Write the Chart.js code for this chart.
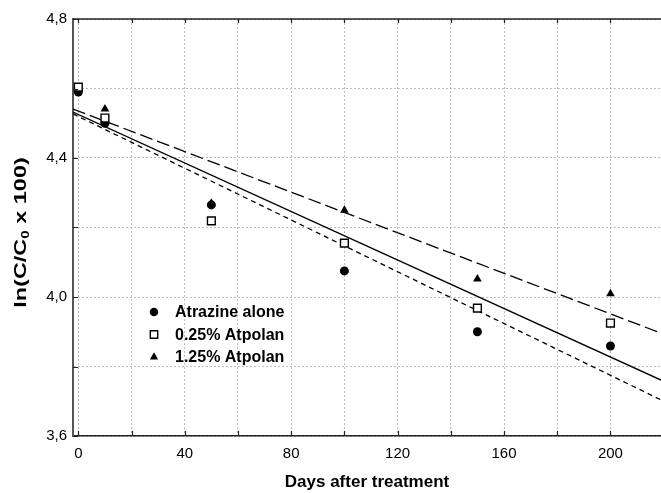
<!DOCTYPE html>
<html>
<head>
<meta charset="utf-8">
<script src="https://cdn.jsdelivr.net/npm/chart.js@4.4.1/dist/chart.umd.min.js"></script>
<style>
  html, body { margin: 0; padding: 0; background: #fff; }
  #wrap { width: 661px; height: 493px; }
</style>
</head>
<body>
<div id="wrap"><canvas id="c" width="661" height="493"></canvas></div>
<script>
/* global Chart */

const days = [0, 10, 50, 100, 150, 200];
const atrazineAlone = [4.59, 4.50, 4.265, 4.075, 3.90, 3.859];
const atpolan025 = [4.604, 4.515, 4.219, 4.155, 3.968, 3.925];
const atpolan125 = [4.596, 4.541, 4.27, 4.25, 4.052, 4.009];

// fitted lines, read at the left and right edges of the plot
const fitDays = [-2, 219];
const fitAlone = [4.527, 3.704];
const fit025 = [4.532, 3.761];
const fit125 = [4.541, 3.896];

const seriesLabels = ['Atrazine alone', '0.25% Atpolan', '1.25% Atpolan'];
const xTickLabels = [0, 40, 80, 120, 160, 200];
const yTickLabels = [3.6, 4.0, 4.4, 4.8];

const FONT = '"Liberation Sans", Arial, sans-serif';

function toPoints(xs, ys) {
  return xs.map((x, i) => ({ x, y: ys[i] }));
}

// marker styles for the three series (also used by the legend)
const markers = [
  { pointStyle: 'circle', radius: 4.5, fill: '#000', borderWidth: 0 },
  { pointStyle: 'rect', radius: 5.5, fill: '#fff', borderWidth: 1.4 },
  { pointStyle: 'triangle', radius: 5, fill: '#000', borderWidth: 0 },
];

function pointDataset(label, values, m, order) {
  return {
    label,
    data: toPoints(days, values),
    pointStyle: m.pointStyle,
    pointRadius: m.radius,
    pointBackgroundColor: m.fill,
    pointBorderColor: '#000',
    pointBorderWidth: m.borderWidth,
    showLine: false,
    order,
  };
}

function fitDataset(label, values, dash) {
  return {
    label,
    data: toPoints(fitDays, values),
    showLine: true,
    pointRadius: 0,
    borderColor: '#000',
    borderWidth: 1.3,
    borderDash: dash,
    fill: false,
    order: 10,
  };
}

function drawMarker(ctx, m, x, y) {
  ctx.fillStyle = m.fill;
  ctx.strokeStyle = '#000';
  ctx.lineWidth = m.borderWidth;
  Chart.helpers.drawPoint(ctx, {
    pointStyle: m.pointStyle,
    radius: m.radius * 0.95,
    rotation: 0,
    borderWidth: m.borderWidth,
  }, x, y);
}

const decorations = {
  id: 'decorations',
  afterDraw(chart) {
    const { ctx, chartArea: a, scales: { x, y } } = chart;
    ctx.save();

    // top frame line
    ctx.strokeStyle = '#222';
    ctx.lineWidth = 1.5;
    ctx.beginPath();
    ctx.moveTo(a.left, a.top);
    ctx.lineTo(a.right, a.top);
    ctx.stroke();

    // inward tick marks
    ctx.lineWidth = 1.2;
    ctx.beginPath();
    x.ticks.forEach((t) => {
      const px = Math.round(x.getPixelForValue(t.value)) + 0.5;
      ctx.moveTo(px, a.bottom);
      ctx.lineTo(px, a.bottom - 5);
      ctx.moveTo(px, a.top);
      ctx.lineTo(px, a.top + 4);
    });
    y.ticks.forEach((t) => {
      const py = Math.round(y.getPixelForValue(t.value)) + 0.5;
      ctx.moveTo(a.left, py);
      ctx.lineTo(a.left + 5, py);
    });
    ctx.stroke();

    // legend inside the plot
    const lx = a.left + 81;
    const ly = a.top + 293;
    ctx.font = `bold 16px ${FONT}`;
    ctx.textBaseline = 'middle';
    ctx.textAlign = 'left';
    seriesLabels.forEach((label, i) => {
      const rowY = ly + i * 22.5;
      drawMarker(ctx, markers[i], lx, rowY);
      ctx.fillStyle = '#000';
      ctx.fillText(label, lx + 21, rowY + 1);
    });

    // y axis title, with subscript 0
    ctx.translate(20, (a.top + a.bottom) / 2 + 5);
    ctx.rotate(-Math.PI / 2);
    ctx.scale(1.38, 1);
    const big = `bold 17px ${FONT}`;
    const small = `bold 11px ${FONT}`;
    const p1 = 'ln(C/C';
    const p2 = '0';
    const p3 = ' x 100)';
    ctx.font = big;
    const w1 = ctx.measureText(p1).width;
    const w3 = ctx.measureText(p3).width;
    ctx.font = small;
    const w2 = ctx.measureText(p2).width;
    let cx = -(w1 + w2 + w3) / 2;
    ctx.fillStyle = '#000';
    ctx.textBaseline = 'alphabetic';
    ctx.font = big;
    ctx.fillText(p1, cx, 6);
    cx += w1;
    ctx.font = small;
    ctx.fillText(p2, cx, 9);
    cx += w2;
    ctx.font = big;
    ctx.fillText(p3, cx, 6);

    ctx.restore();
  },
};

new Chart(document.getElementById('c'), {
  type: 'scatter',
  data: {
    datasets: [
      pointDataset(seriesLabels[0], atrazineAlone, markers[0], 3),
      pointDataset(seriesLabels[1], atpolan025, markers[1], 1),
      pointDataset(seriesLabels[2], atpolan125, markers[2], 2),
      fitDataset('fit Atrazine alone', fitAlone, [5, 4]),
      fitDataset('fit 0.25% Atpolan', fit025, []),
      fitDataset('fit 1.25% Atpolan', fit125, [13, 5]),
    ],
  },
  options: {
    responsive: false,
    animation: false,
    devicePixelRatio: 1,
    layout: {
      autoPadding: false,
      padding: { top: 19, right: 0, left: 0, bottom: 0 },
    },
    plugins: {
      legend: { display: false },
      tooltip: { enabled: false },
    },
    scales: {
      x: {
        type: 'linear',
        min: -2,
        max: 219,
        ticks: {
          stepSize: 20,
          includeBounds: false,
          autoSkip: false,
          maxRotation: 0,
          color: '#000',
          font: { size: 15, family: FONT },
          padding: 9,
          callback: (v) => (xTickLabels.includes(v) ? String(v) : ''),
        },
        grid: { color: '#bdbdbd', lineWidth: 1, drawTicks: false },
        border: { display: true, color: '#222', width: 1.5, dash: [2, 2] },
        title: {
          display: true,
          text: 'Days after treatment',
          color: '#000',
          font: { size: 17, weight: 'bold', family: FONT },
          padding: { top: 0, bottom: 0 },
        },
        afterFit(scale) {
          scale.height = 57;
          scale.paddingLeft = 0;
          scale.paddingRight = 0;
        },
      },
      y: {
        min: 3.6,
        max: 4.8,
        ticks: {
          stepSize: 0.2,
          autoSkip: false,
          color: '#000',
          font: { size: 15, family: FONT },
          padding: 6,
          callback: (v) => (yTickLabels.some((t) => Math.abs(t - v) < 1e-6)
            ? v.toFixed(1).replace('.', ',') : ''),
        },
        grid: { color: '#bdbdbd', lineWidth: 1, drawTicks: false },
        border: { display: true, color: '#555', width: 2, dash: [2, 2] },
        afterFit(scale) { scale.width = 73; },
      },
    },
  },
  plugins: [decorations],
});
</script>
</body>
</html>
